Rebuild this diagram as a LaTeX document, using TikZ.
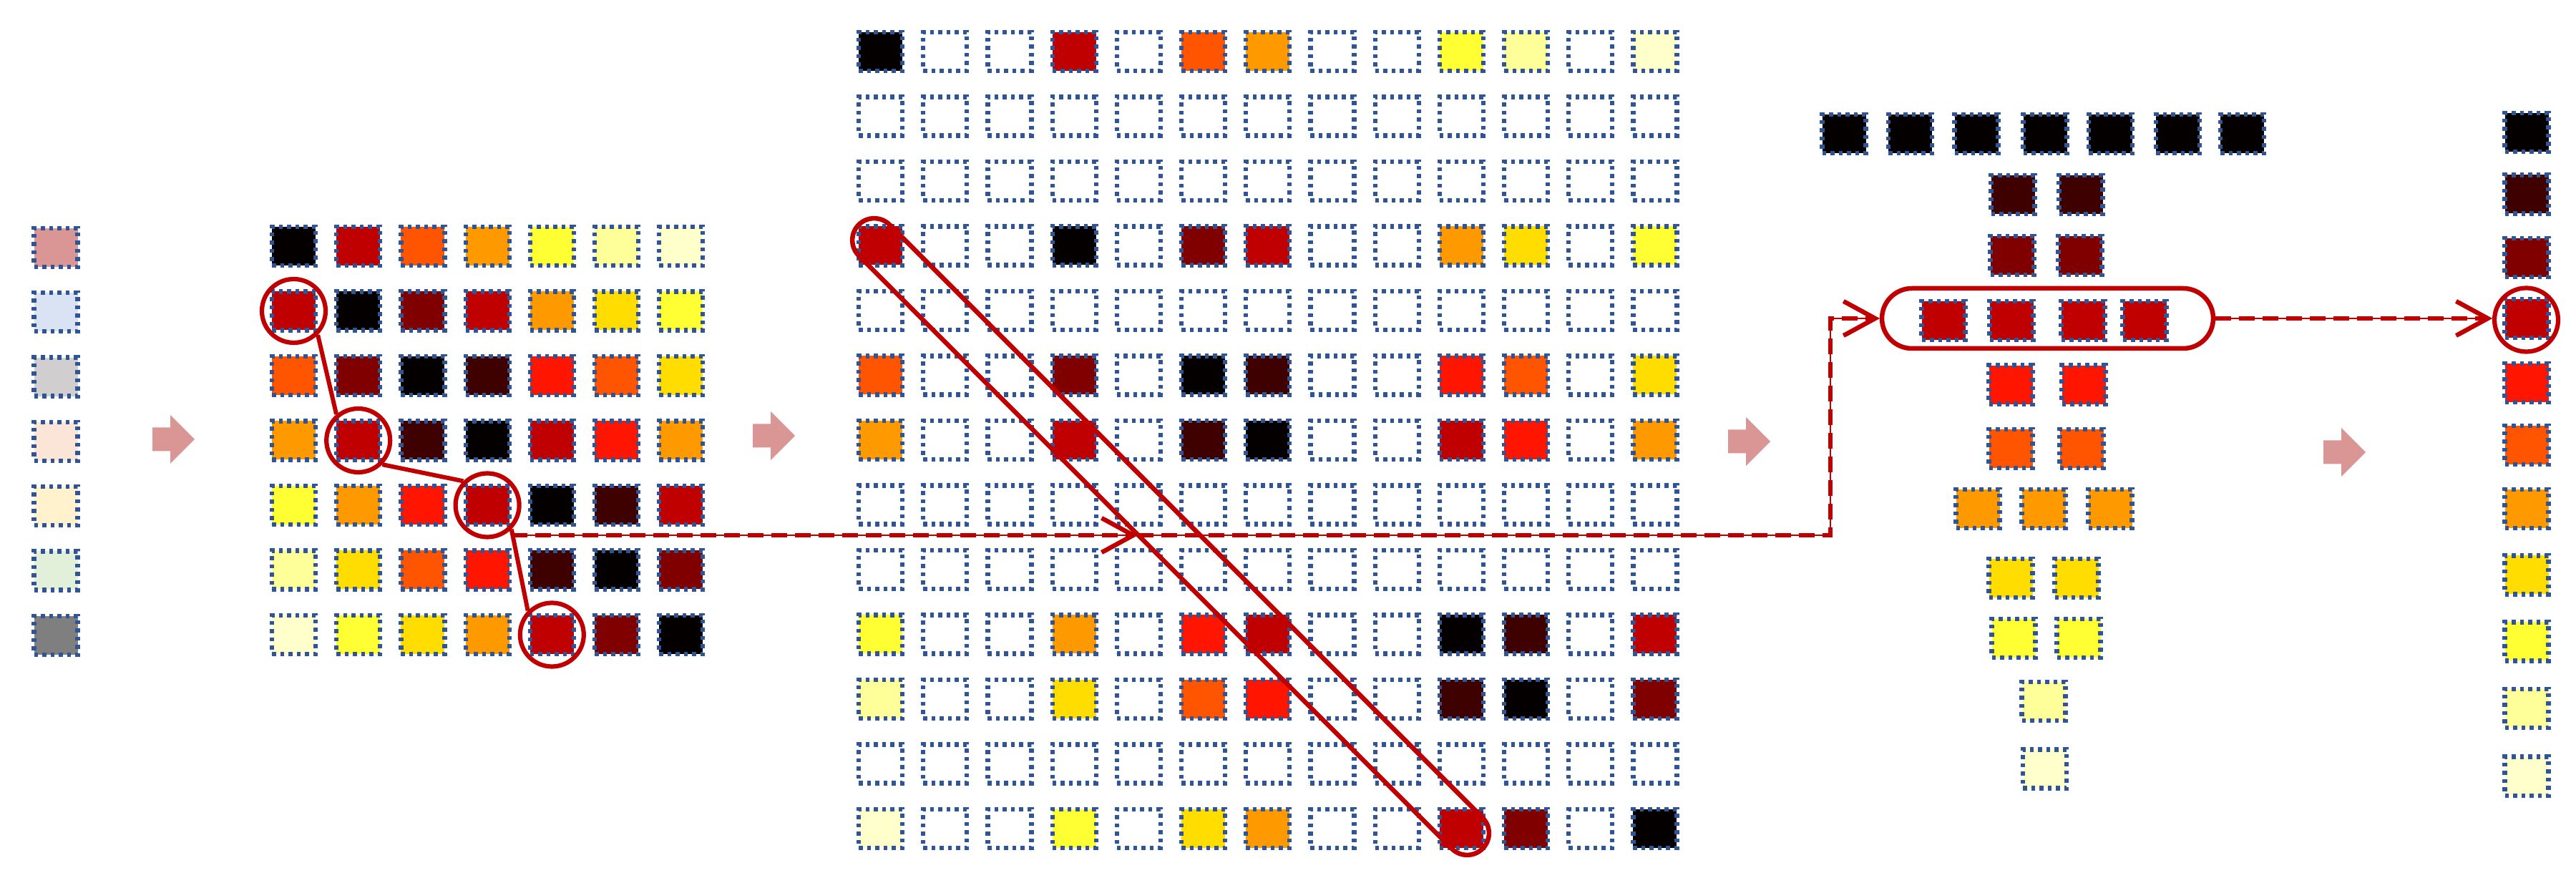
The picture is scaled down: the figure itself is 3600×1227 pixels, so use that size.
\documentclass[tikz,border=0pt]{standalone}
\usetikzlibrary{shapes.misc,arrows.meta}
\definecolor{dotblue}{HTML}{2F5597}
\definecolor{redline}{HTML}{C00000}
\definecolor{arrowpink}{HTML}{D99694}
\definecolor{h0}{HTML}{050000}
\definecolor{h1}{HTML}{3F0000}
\definecolor{h2}{HTML}{800000}
\definecolor{h3}{HTML}{C00000}
\definecolor{h4}{HTML}{FF1500}
\definecolor{h5}{HTML}{FF5500}
\definecolor{h6}{HTML}{FF9900}
\definecolor{h7}{HTML}{FFDD00}
\definecolor{h8}{HTML}{FFFF33}
\definecolor{h9}{HTML}{FFFF99}
\definecolor{h10}{HTML}{FFFFCC}
\definecolor{hw}{HTML}{FFFFFF}
\definecolor{l1}{HTML}{D99694}
\definecolor{l2}{HTML}{DAE3F3}
\definecolor{l3}{HTML}{D0CECE}
\definecolor{l4}{HTML}{FBE5D6}
\definecolor{l5}{HTML}{FFF2CC}
\definecolor{l6}{HTML}{E2F0D9}
\definecolor{l7}{HTML}{7F7F7F}
\begin{document}
\begin{tikzpicture}[x=0.1mm,y=-0.1mm,
  cell/.style={rectangle, draw=dotblue, line width=0.62mm, dash pattern=on 0.55mm off 0.6mm,
    minimum width=6.1mm, minimum height=5.4mm, inner sep=0pt},
  ring/.style={circle, draw=redline, line width=0.62mm, minimum size=8.9mm, inner sep=0pt},
  link/.style={draw=redline, line width=0.6mm},
  band/.style={rounded rectangle, draw=redline, line width=0.65mm, inner sep=0pt},
  flow/.style={draw=redline, line width=0.62mm, dash pattern=on 2.2mm off 1.1mm,
    preaction={draw=redline, line width=0.12mm, solid},
    -{Straight Barb[length=4.4mm,width=4.8mm]}},
  barrow/.pic={\fill[arrowpink] (0,-16.5) -- (25,-16.5) -- (25,-34) -- (59,0) -- (25,34) -- (25,16.5) -- (0,16.5) -- cycle;}
]
\path[use as bounding box] (0,0) rectangle (3600,1227);

% panel 1: legend column
\foreach \c [count=\i] in {l1,l2,l3,l4,l5,l6,l7}
  \node[cell, fill=\c] (L\i) at (78,{346+90.3*(\i-1)}) {};

% panel 2: 7x7 matrix
\foreach \row [count=\r] in {{0,3,5,6,8,9,10},{3,0,2,3,6,7,8},{5,2,0,1,4,5,7},{6,3,1,0,3,4,6},{8,6,4,3,0,1,3},{9,7,5,4,1,0,2},{10,8,7,6,3,2,0}}
  \foreach \v [count=\c] in \row
    \node[cell, fill=h\v] (A-\r-\c) at ({410.5+90.2*(\c-1)},{344+90.5*(\r-1)}) {};

% panel 3: 13x13 matrix
\foreach \row [count=\r] in {
  {0,w,w,3,w,5,6,w,w,8,9,w,10},
  {w,w,w,w,w,w,w,w,w,w,w,w,w},
  {w,w,w,w,w,w,w,w,w,w,w,w,w},
  {3,w,w,0,w,2,3,w,w,6,7,w,8},
  {w,w,w,w,w,w,w,w,w,w,w,w,w},
  {5,w,w,2,w,0,1,w,w,4,5,w,7},
  {6,w,w,3,w,1,0,w,w,3,4,w,6},
  {w,w,w,w,w,w,w,w,w,w,w,w,w},
  {w,w,w,w,w,w,w,w,w,w,w,w,w},
  {8,w,w,6,w,4,3,w,w,0,1,w,3},
  {9,w,w,7,w,5,4,w,w,1,0,w,2},
  {w,w,w,w,w,w,w,w,w,w,w,w,w},
  {10,w,w,8,w,7,6,w,w,3,2,w,0}}
  \foreach \v [count=\c] in \row
    \node[cell, fill=h\v] (B-\r-\c) at ({1230.5+90.2*(\c-1)},{72+90.5*(\r-1)}) {};

% panel 4: grouped values
\foreach \x [count=\i] in {2577,2669.6,2762,2858,2949.6,3043.5,3133.5}
  \node[cell, fill=h0] (C-1-\i) at (\x,186.7) {};
\node[cell, fill=h1] (C-2-1) at (2813,272) {};
\node[cell, fill=h1] (C-2-2) at (2908,272) {};
\node[cell, fill=h2] (C-3-1) at (2812,357) {};
\node[cell, fill=h2] (C-3-2) at (2907,357) {};
\foreach \x [count=\i] in {2716,2811,2911,2997}
  \node[cell, fill=h3] (C-4-\i) at (\x,448) {};
\node[cell, fill=h4] (C-5-1) at (2810,537.6) {};
\node[cell, fill=h4] (C-5-2) at (2912,537.6) {};
\node[cell, fill=h5] (C-6-1) at (2810,627) {};
\node[cell, fill=h5] (C-6-2) at (2909,627) {};
\node[cell, fill=h6] (C-7-1) at (2764,711) {};
\node[cell, fill=h6] (C-7-2) at (2856,711) {};
\node[cell, fill=h6] (C-7-3) at (2949,711) {};
\node[cell, fill=h7] (C-8-1) at (2810,808) {};
\node[cell, fill=h7] (C-8-2) at (2902,808) {};
\node[cell, fill=h8] (C-9-1) at (2814,892) {};
\node[cell, fill=h8] (C-9-2) at (2905,892) {};
\node[cell, fill=h9] (C-10-1) at (2856,980) {};
\node[cell, fill=h10] (C-11-1) at (2857.5,1074.5) {};

% panel 5: colour scale
\foreach \y [count=\i from 0] in {185,271.5,360,445.4,535,622,711,803.5,896.5,990,1084.6}
  \node[cell, fill=h\i] (E-\i) at (3531,\y) {};

% block arrows between panels
\pic at (213,614) {barrow};
\pic at (1052,609) {barrow};
\pic at (2415,617) {barrow};
\pic at (3247,632) {barrow};

% rings and links in panel 2
\node[ring] (k1) at (A-2-1) {};
\node[ring] (k2) at (A-4-2) {};
\node[ring] (k3) at (A-5-4) {};
\node[ring] (k4) at (A-7-5) {};
\draw[link] (k1.-45) -- (k2.130);
\draw[link] (k2.-45) -- (k3.135);
\draw[link] (k3.-45) -- (k4.135);

% diagonal band in panel 3
\node[band, minimum width=123.3mm, minimum height=6.1mm, rotate=-45] (diag) at (1636,750) {};

% band in panel 4 and ring in panel 5
\node[band, minimum width=46.3mm, minimum height=8.4mm] (stad) at (2861.5,445) {};
\node[ring] (k5) at (3530.5,447) {};

% dashed flow
\coordinate (d0) at (715,748);
\coordinate (d1) at (1590,748);
\coordinate (d2) at (2558,748);
\draw[flow] (d0) -- (d1);
\draw[flow] (d1) -- (d2) |- (stad.west);
\draw[flow] (stad.east) -- (stad.east -| k5.west);
\end{tikzpicture}
\end{document}
